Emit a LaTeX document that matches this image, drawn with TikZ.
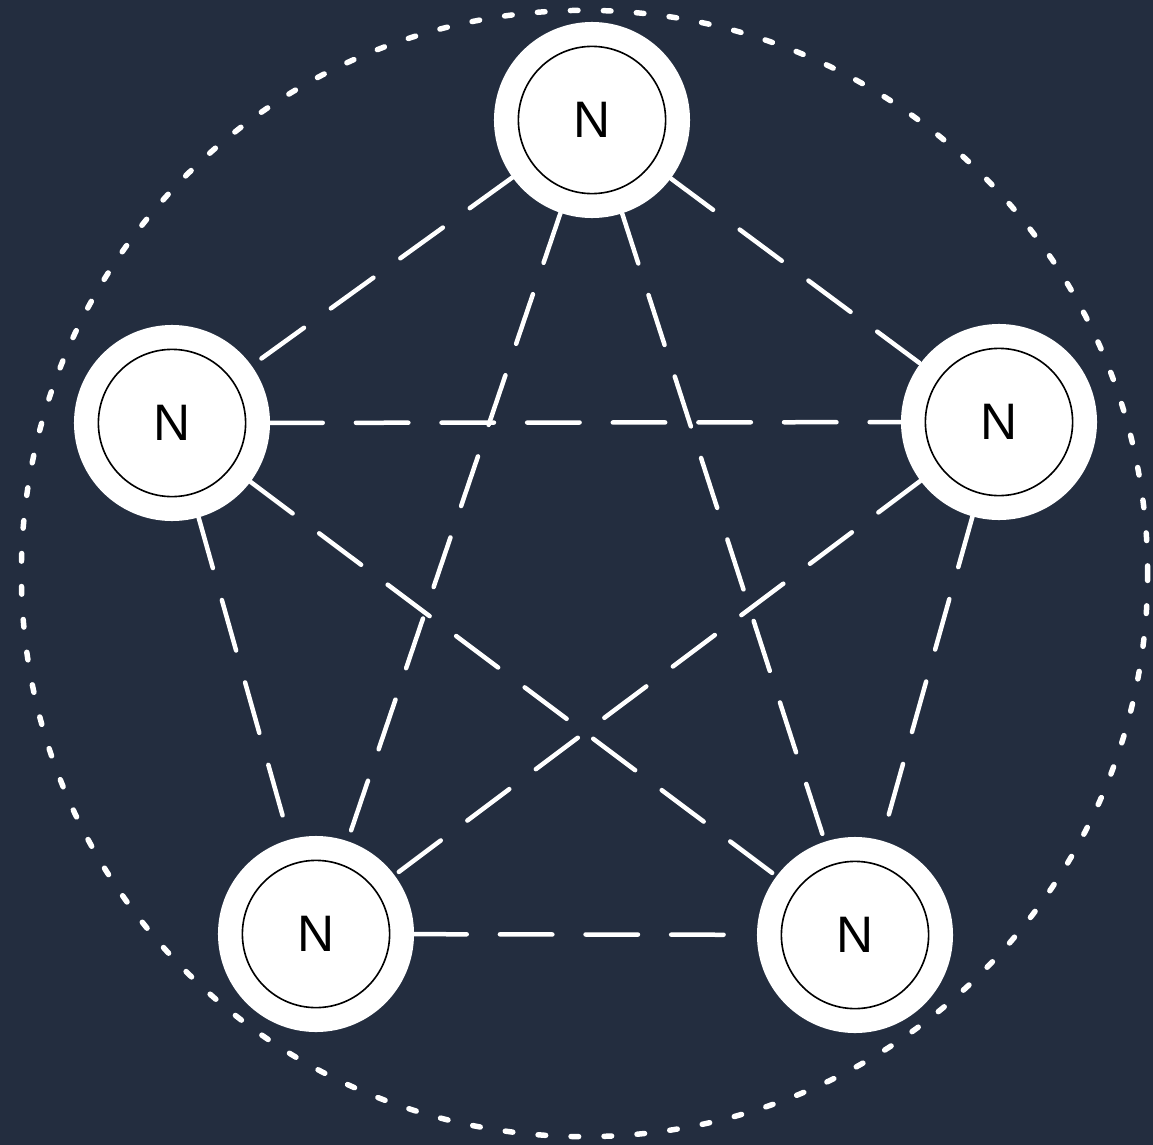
\documentclass[tikz,border=0pt]{standalone}
\usepackage{fontspec}
\setmainfont{Liberation Sans}
\usepackage{tikz}
\usetikzlibrary{calc}
\definecolor{navybg}{RGB}{35,45,63}
\tikzset{
  peer/.style={circle,draw=none,fill=white,minimum size=4.9cm,inner sep=0pt,
    font=\fontsize{36.5}{40}\selectfont,text=black,
    path picture={\draw[black,line width=1.15pt]
      (path picture bounding box.center) circle (1.84cm);}},
  link/.style={draw=white,line width=3.2pt,line cap=round,
    dash pattern=on 1.31cm off 0.83cm},
  ring/.style={draw=white,line width=3.9pt,line cap=round,
    dash pattern=on 0.19cm off 0.635cm},
}

\begin{document}
\begin{tikzpicture}[x=0.025cm,y=-0.025cm]

  % background and frame
  \fill[navybg] (0,0) rectangle (1153,1145);
  \useasboundingbox (0,0) rectangle (1153,1145);

  % outer dotted ring
  \draw[ring] (584.5,573.5) circle (14.075cm);

  % peers
  \node[peer] (ntop)   at (592,120) {N};
  \node[peer] (nleft)  at (172,423) {N};
  \node[peer] (nright) at (999,422) {N};
  \node[peer] (nbl)    at (316,934) {N};
  \node[peer] (nbr)    at (855,935) {N};

  % full mesh
  \foreach \a/\b in {ntop/nleft,ntop/nright,ntop/nbl,ntop/nbr,
                     nleft/nright,nleft/nbl,nleft/nbr,
                     nright/nbl,nright/nbr,nbl/nbr}
    \draw[link] (\a) -- (\b);

\end{tikzpicture}
\end{document}
